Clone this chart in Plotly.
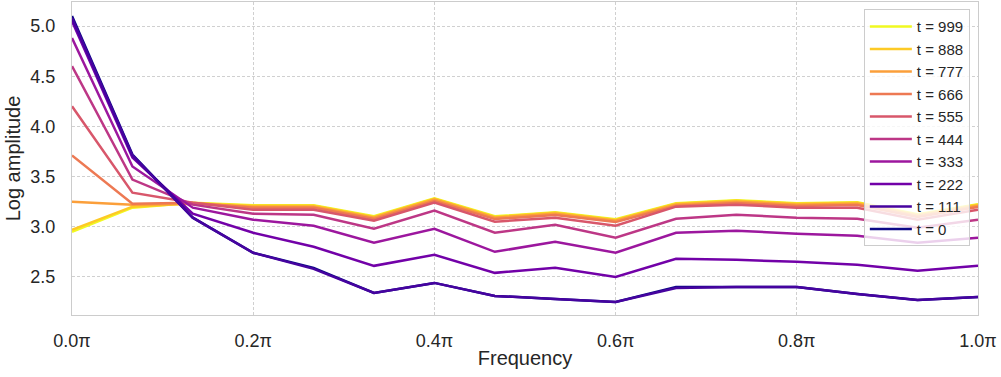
import plotly.graph_objects as go

# Frequencies in units of pi (16 bins)
freq = [0.0, 0.0667, 0.1333, 0.2, 0.2667, 0.3333, 0.4, 0.4667,
        0.5333, 0.6, 0.6667, 0.7333, 0.8, 0.8667, 0.9333, 1.0]

t_labels = ["t = 999", "t = 888", "t = 777", "t = 666", "t = 555",
            "t = 444", "t = 333", "t = 222", "t = 111", "t = 0"]

t999 = [2.95, 3.19, 3.238, 3.214, 3.214, 3.104, 3.284, 3.104, 3.144, 3.074, 3.234, 3.264, 3.234, 3.244, 3.124, 3.224]
t888 = [2.97, 3.20, 3.235, 3.208, 3.208, 3.098, 3.278, 3.098, 3.138, 3.068, 3.228, 3.258, 3.228, 3.238, 3.118, 3.218]
t777 = [3.25, 3.22, 3.23, 3.20, 3.20, 3.09, 3.27, 3.09, 3.13, 3.06, 3.22, 3.25, 3.22, 3.23, 3.11, 3.21]
t666 = [3.71, 3.23, 3.24, 3.188, 3.188, 3.076, 3.256, 3.076, 3.116, 3.046, 3.206, 3.236, 3.206, 3.216, 3.096, 3.196]
t555 = [4.20, 3.34, 3.24, 3.17, 3.17, 3.06, 3.24, 3.05, 3.09, 3.01, 3.20, 3.22, 3.19, 3.19, 3.07, 3.17]
t444 = [4.60, 3.47, 3.22, 3.13, 3.12, 2.98, 3.16, 2.94, 3.02, 2.89, 3.08, 3.12, 3.09, 3.08, 2.99, 3.07]
t333 = [4.88, 3.60, 3.19, 3.07, 3.01, 2.84, 2.98, 2.75, 2.85, 2.74, 2.94, 2.96, 2.93, 2.91, 2.84, 2.89]
t222 = [5.05, 3.69, 3.13, 2.94, 2.80, 2.61, 2.72, 2.54, 2.59, 2.50, 2.68, 2.67, 2.65, 2.62, 2.56, 2.61]
t111 = [5.08, 3.71, 3.09, 2.74, 2.58, 2.34, 2.44, 2.31, 2.28, 2.25, 2.39, 2.40, 2.40, 2.33, 2.27, 2.30]
t0   = [5.10, 3.72, 3.09, 2.74, 2.59, 2.34, 2.44, 2.31, 2.28, 2.25, 2.40, 2.40, 2.40, 2.33, 2.27, 2.30]

series = [t999, t888, t777, t666, t555, t444, t333, t222, t111, t0]
colors = ["#f0f921", "#fdca26", "#fb9f3a", "#ed7953", "#d8576b",
          "#bd3786", "#9c179e", "#7201a8", "#46039f", "#0d0887"]
# drawing order: t=999 first ... t=222, then t=0, then t=111 on top
draw_order = [0, 1, 2, 3, 4, 5, 6, 7, 9, 8]

x_ticks = [0.0, 0.2, 0.4, 0.6, 0.8, 1.0]
x_ticktext = ["0.0π", "0.2π", "0.4π", "0.6π", "0.8π", "1.0π"]
y_ticks = [2.5, 3.0, 3.5, 4.0, 4.5, 5.0]

FONT = "Liberation Sans, Arial, sans-serif"
TXT = "#262626"

fig = go.Figure()
for i in draw_order:
    fig.add_trace(go.Scatter(x=freq, y=series[i], mode="lines", name=t_labels[i],
                             legendrank=i + 1,
                             line=dict(color=colors[i], width=2.5)))

axis_common = dict(
    showline=True, mirror=True, linecolor="#cccccc", linewidth=1.3,
    showgrid=True, gridcolor="#d0d0d0", gridwidth=0.8, griddash="3px,2px",
    zeroline=False, ticks="", tickfont=dict(family=FONT, size=18, color=TXT),
)

fig.update_layout(
    width=1001, height=377,
    margin=dict(l=72, r=23, t=2, b=62),
    paper_bgcolor="white", plot_bgcolor="white",
    font=dict(family=FONT, color=TXT),
    showlegend=True,
    legend=dict(
        traceorder="normal",
        x=0.874, y=0.977, xanchor="left", yanchor="top",
        bgcolor="rgba(255,255,255,0.8)", bordercolor="#cccccc", borderwidth=1,
        font=dict(family=FONT, size=15, color=TXT),
        itemwidth=42,
    ),
    xaxis=dict(
        range=[0, 1.0], tickvals=x_ticks, ticktext=x_ticktext,
        ticklabelstandoff=9,
        title=dict(text="Frequency", font=dict(family=FONT, size=20, color=TXT), standoff=1),
        **axis_common,
    ),
    yaxis=dict(
        range=[2.12, 5.24], tickvals=y_ticks, tickformat=".1f",
        ticklabelstandoff=12,
        title=dict(text="Log amplitude", font=dict(family=FONT, size=20, color=TXT), standoff=4),
        **axis_common,
    ),
)

fig.write_html("out.html")
